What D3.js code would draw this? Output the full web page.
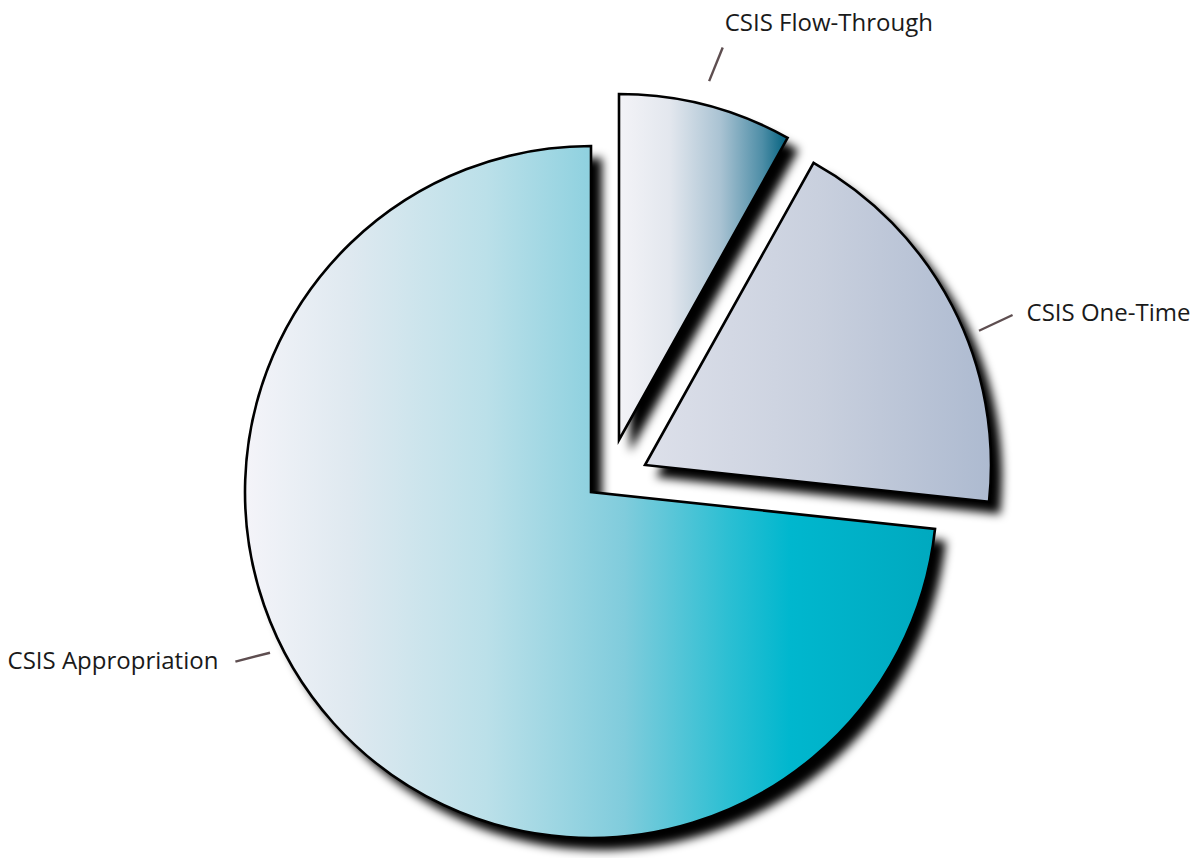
<!DOCTYPE html>
<html>
<head>
<meta charset="utf-8">
<script src="https://cdn.jsdelivr.net/npm/d3@7"></script>
<style>
  html, body { margin: 0; padding: 0; background: #ffffff; }
  svg { display: block; }
  text { font-family: "Open Sans", "Noto Sans", sans-serif; fill: #1a1a1a; }
</style>
</head>
<body>
<svg id="chart" width="1195" height="858"></svg>
<script>
// ---- data ----
const categories = ["CSIS Flow-Through", "CSIS One-Time", "CSIS Appropriation"];
const shares = [8.1, 18.6, 73.3];

// ---- layout / style ----
const W = 1195, H = 858;
const radius = 346;
const sliceCenters = [[619, 440], [645, 465], [591, 492]];
const leaderAngles = [[14.1, 14.8], [68.1, 67.8], [243.4, 244.5]];   // degrees clockwise from 12 o'clock (inner, outer)
const leaderRadii = [[370, 406], [360, 397], [359, 394]];
const labelAnchor = ["start", "start", "end"];
const labelOffset = [[2, -16], [14, 6], [-17, 7]];
const gradients = [
  [[0, "#f3f3f7"], [0.3, "#e3e7ee"], [0.6, "#aac3d3"], [0.85, "#4e8ea7"], [1, "#00607e"]],
  [[0, "#dde0ea"], [0.5, "#c9d0de"], [1, "#adbad0"]],
  [[0, "#f4f4f9"], [0.15, "#dfe9f0"], [0.35, "#bbe0e9"], [0.55, "#80ccdc"], [0.7, "#2cbfd3"], [0.79, "#00b7ce"], [1, "#00a9bf"]]
];

const svg = d3.select("#chart");
const defs = svg.append("defs");

gradients.forEach((stops, i) => {
  const g = defs.append("linearGradient").attr("id", "grad" + i)
    .attr("x1", "0%").attr("x2", "100%").attr("y1", "0%").attr("y2", "0%");
  stops.forEach(s => g.append("stop").attr("offset", s[0]).attr("stop-color", s[1]));
});

const f = defs.append("filter").attr("id", "shadow")
  .attr("x", "-10%").attr("y", "-10%").attr("width", "130%").attr("height", "130%");
f.append("feGaussianBlur").attr("stdDeviation", 5);

const pie = d3.pie().sort(null).value(d => d);
const arcs = pie(shares);
const arc = d3.arc().innerRadius(0).outerRadius(radius);

// shadows
const shadowG = svg.append("g").attr("filter", "url(#shadow)");
arcs.forEach((a, i) => {
  shadowG.append("path")
    .attr("transform", `translate(${sliceCenters[i][0] + 11},${sliceCenters[i][1] + 12})`)
    .attr("d", arc(a))
    .attr("fill", "#000");
});

// slices
arcs.forEach((a, i) => {
  svg.append("path")
    .attr("transform", `translate(${sliceCenters[i][0]},${sliceCenters[i][1]})`)
    .attr("d", arc(a))
    .attr("fill", `url(#grad${i})`)
    .attr("stroke", "#000")
    .attr("stroke-width", 2.6)
    .attr("stroke-linejoin", "miter");
});

// leaders + labels
categories.forEach((c, i) => {
  const a1 = leaderAngles[i][0] * Math.PI / 180, a2 = leaderAngles[i][1] * Math.PI / 180;
  const cx = sliceCenters[i][0], cy = sliceCenters[i][1];
  const [rIn, rOut] = leaderRadii[i];
  const x1 = cx + rIn * Math.sin(a1), y1 = cy - rIn * Math.cos(a1);
  const x2 = cx + rOut * Math.sin(a2), y2 = cy - rOut * Math.cos(a2);
  svg.append("line")
    .attr("x1", x1).attr("y1", y1).attr("x2", x2).attr("y2", y2)
    .attr("stroke", "#5e4e50").attr("stroke-width", 2.4);
  svg.append("text")
    .attr("x", x2 + labelOffset[i][0]).attr("y", y2 + labelOffset[i][1])
    .attr("text-anchor", labelAnchor[i])
    .attr("font-size", 24)
    .text(c);
});
</script>
</body>
</html>
